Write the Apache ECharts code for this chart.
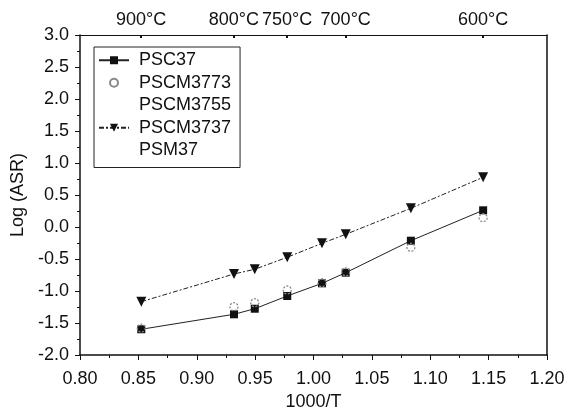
<!DOCTYPE html>
<html>
<head>
<meta charset="utf-8">
<script src="https://cdn.jsdelivr.net/npm/echarts@6/dist/echarts.min.js"></script>
<style>html,body{margin:0;padding:0;background:#fff;}#c{width:579px;height:413px;}</style>
</head>
<body>
<div id="c"></div>
<script>
var xInv = [0.8525, 0.9319, 0.9497, 0.9775, 1.0073, 1.0276, 1.0834, 1.1453];
var psc37 = [-1.598, -1.364, -1.277, -1.078, -0.880, -0.714, -0.214, 0.261];
var pscm3773 = [-1.58, -1.245, -1.183, -0.984, -0.87, -0.70, -0.317, 0.145];
var pscm3737 = [-1.167, -0.734, -0.661, -0.473, -0.255, -0.114, 0.292, 0.777];
var pscm3755 = [];
var psm37 = [];
var topTemps = [900, 800, 750, 700, 600];
var seriesNames = ['PSC37', 'PSCM3773', 'PSCM3755', 'PSCM3737', 'PSM37'];

function pairs(ys) { return ys.map(function (y, i) { return [xInv[i], y]; }); }
var topPos = topTemps.map(function (t) { return 1000 / (t + 273.15); });

var FONT = 'Liberation Sans, Arial, sans-serif';
var FS = 18;
var chart = echarts.init(document.getElementById('c'));
chart.setOption({
  animation: false,
  backgroundColor: '#fff',
  grid: { left: 80, right: 32, top: 35, bottom: 58, containLabel: false, outerBoundsMode: 'none' },
  legend: {
    orient: 'vertical', left: 94, top: 47,
    borderColor: '#222', borderWidth: 1, padding: [2, 9, 6, 4],
    itemGap: 0, itemWidth: 30, itemHeight: 10,
    textStyle: { fontFamily: FONT, fontSize: FS, color: '#111', lineHeight: 22.5, padding: [0, 0, 0, 5] },
    data: [
      { name: 'PSC37' },
      { name: 'PSCM3773' },
      { name: 'PSCM3755', icon: 'none' },
      { name: 'PSCM3737' },
      { name: 'PSM37', icon: 'none' }
    ]
  },
  xAxis: [{
    type: 'value', position: 'bottom', min: 0.8, max: 1.2, interval: 0.05,
    name: '1000/T', nameLocation: 'middle', nameGap: 38,
    nameTextStyle: { fontFamily: FONT, fontSize: FS, color: '#111' },
    axisLine: { show: true, onZero: false, lineStyle: { color: '#111', width: 1.5 } },
    axisTick: { show: true, inside: false, length: 5, lineStyle: { color: '#111' } },
    minorTick: { show: true, splitNumber: 2, length: 3, lineStyle: { color: '#111' } },
    splitLine: { show: false },
    axisLabel: { margin: 15, fontFamily: FONT, fontSize: FS, color: '#111',
      formatter: function (v) { return v.toFixed(2); } }
  }, {
    type: 'value', position: 'top', min: 0.8, max: 1.2,
    axisLine: { show: true, onZero: false, lineStyle: { color: '#111', width: 1 } },
    axisTick: { show: true, inside: true, length: 3, customValues: topPos, lineStyle: { color: '#111', width: 2 } },
    splitLine: { show: false },
    axisLabel: { margin: 6, fontFamily: FONT, fontSize: FS, color: '#111', customValues: topPos,
      formatter: function (v) { return Math.round(1000 / v - 273.15) + '°C'; } }
  }],
  yAxis: [{
    type: 'value', position: 'left', min: -2, max: 3, interval: 0.5,
    name: 'Log (ASR)', nameLocation: 'middle', nameGap: 42,
    nameTextStyle: { fontFamily: FONT, fontSize: FS, color: '#111' },
    axisLine: { show: true, onZero: false, lineStyle: { color: '#111', width: 1.5 } },
    axisTick: { show: true, inside: false, length: 5, lineStyle: { color: '#111' } },
    minorTick: { show: true, splitNumber: 2, length: 3, lineStyle: { color: '#111' } },
    splitLine: { show: false },
    axisLabel: { margin: 11, fontFamily: FONT, fontSize: FS, color: '#111',
      formatter: function (v) { return v.toFixed(1); } }
  }, {
    type: 'value', position: 'right', min: -2, max: 3, interval: 0.5,
    axisLine: { show: true, onZero: false, lineStyle: { color: '#111', width: 1.5 } },
    axisTick: { show: false }, axisLabel: { show: false }, splitLine: { show: false }
  }],
  series: [{
    name: seriesNames[0], type: 'line', data: pairs(psc37),
    symbol: 'rect', symbolSize: 8,
    itemStyle: { color: '#111' },
    lineStyle: { color: '#222', width: 1 }
  }, {
    name: seriesNames[1], type: 'line', data: pairs(pscm3773),
    symbol: 'circle', symbolSize: 8, z: 3,
    itemStyle: { color: 'rgba(255,255,255,0)', borderColor: '#8a8a8a', borderWidth: 1.3, borderType: [2, 1.5] },
    lineStyle: { opacity: 0, width: 0 }
  }, {
    name: seriesNames[2], type: 'line', data: pscm3755, symbol: 'none',
    lineStyle: { opacity: 0 }
  }, {
    name: seriesNames[3], type: 'line', data: pairs(pscm3737),
    symbol: 'triangle', symbolRotate: 180, symbolSize: 10,
    itemStyle: { color: '#111' },
    lineStyle: { color: '#222', width: 1, type: [5, 2, 2, 2] }
  }, {
    name: seriesNames[4], type: 'line', data: psm37, symbol: 'none',
    lineStyle: { opacity: 0 }
  }]
});
</script>
</body>
</html>
